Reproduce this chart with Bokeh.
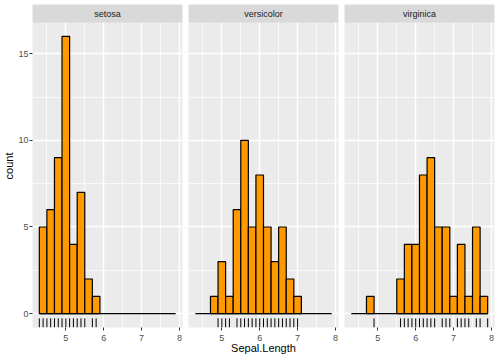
import numpy as np
from bokeh.plotting import figure
from bokeh.layouts import row
from bokeh.models import FixedTicker, Range1d
from bokeh.embed import file_html
from bokeh.resources import INLINE
from bokeh.core.properties import value

# ---- data ----
species = ["setosa", "versicolor", "virginica"]
bin_edges = [4.3, 4.5, 4.7, 4.9, 5.1, 5.3, 5.5, 5.7, 5.9, 6.1, 6.3, 6.5,
             6.7, 6.9, 7.1, 7.3, 7.5, 7.7, 7.9]
setosa_counts = [5, 6, 9, 16, 4, 7, 2, 1, 0, 0, 0, 0, 0, 0, 0, 0, 0, 0]
versicolor_counts = [0, 0, 1, 3, 1, 6, 10, 5, 8, 5, 3, 5, 2, 1, 0, 0, 0, 0]
virginica_counts = [0, 0, 1, 0, 0, 0, 2, 4, 4, 8, 9, 5, 5, 1, 4, 1, 5, 1]
setosa_rug = [4.3, 4.4, 4.5, 4.6, 4.7, 4.8, 4.9, 5.0, 5.1, 5.2, 5.3, 5.4, 5.5, 5.7, 5.8]
versicolor_rug = [4.9, 5.0, 5.1, 5.2, 5.4, 5.5, 5.6, 5.7, 5.8, 5.9, 6.0, 6.1, 6.2,
                  6.3, 6.4, 6.5, 6.6, 6.7, 6.8, 6.9, 7.0]
virginica_rug = [4.9, 5.6, 5.7, 5.8, 5.9, 6.0, 6.1, 6.2, 6.3, 6.4, 6.5, 6.7, 6.8,
                 6.9, 7.1, 7.2, 7.3, 7.4, 7.6, 7.7, 7.9]
x_ticks = [5, 6, 7, 8]
x_minor = [4.5, 5.5, 6.5, 7.5]
y_ticks = [0, 5, 10, 15]
y_minor = [2.5, 7.5, 12.5]

counts = {"setosa": setosa_counts, "versicolor": versicolor_counts, "virginica": virginica_counts}
rugs = {"setosa": setosa_rug, "versicolor": versicolor_rug, "virginica": virginica_rug}

FONT = "Liberation Sans"
PANEL_H = 305
STRIP_H = 18
FRAME_W = 150

edges = np.array(bin_edges)
xspan = edges[-1] - edges[0]
x_lo, x_hi = edges[0] - 0.05 * xspan, edges[-1] + 0.05 * xspan
ymax = max(max(c) for c in counts.values())
y_lo, y_hi = -0.05 * ymax, 1.05 * ymax
y_top = y_hi + (y_hi - y_lo) * STRIP_H / PANEL_H

figs = []
for i, sp in enumerate(species):
    p = figure(frame_width=FRAME_W, frame_height=PANEL_H + STRIP_H,
               x_range=Range1d(x_lo, x_hi), y_range=Range1d(y_lo, y_top),
               output_backend="svg", toolbar_location=None, tools="",
               min_border_top=4, min_border_bottom=32,
               min_border_left=27 if i == 0 else 3, min_border_right=3,
               y_axis_location="left" if i == 0 else None)
    p.background_fill_color = "#EBEBEB"
    p.border_fill_color = "white"
    p.outline_line_color = None

    # grids
    p.xgrid.ticker = FixedTicker(ticks=x_ticks, minor_ticks=x_minor)
    p.ygrid.ticker = FixedTicker(ticks=y_ticks, minor_ticks=y_minor)
    for g in (p.xgrid, p.ygrid):
        g.grid_line_color = "white"
        g.grid_line_width = 1.4
        g.minor_grid_line_color = "white"
        g.minor_grid_line_width = 0.7

    # x axis
    ax = p.xaxis[0]
    ax.ticker = FixedTicker(ticks=x_ticks)
    ax.axis_line_color = None
    ax.major_tick_out = 3
    ax.major_tick_in = 0
    ax.minor_tick_out = 0
    ax.minor_tick_in = 0
    ax.major_tick_line_color = "#333333"
    ax.major_label_text_font = FONT
    ax.major_label_text_font_size = "9px"
    ax.major_label_text_color = "#4D4D4D"
    ax.major_label_standoff = 4
    ax.axis_label = "Sepal.Length"
    ax.axis_label_text_font = FONT
    ax.axis_label_text_font_size = "11px"
    ax.axis_label_text_font_style = "normal"
    ax.axis_label_text_color = "black"
    ax.axis_label_standoff = -2
    if i != 1:
        ax.axis_label_text_alpha = 0

    if i == 0:
        ay = p.yaxis[0]
        ay.ticker = FixedTicker(ticks=y_ticks)
        ay.axis_line_color = None
        ay.major_tick_out = 3
        ay.major_tick_in = 0
        ay.minor_tick_out = 0
        ay.minor_tick_in = 0
        ay.major_tick_line_color = "#333333"
        ay.major_label_text_font = FONT
        ay.major_label_text_font_size = "9px"
        ay.major_label_text_color = "#4D4D4D"
        ay.major_label_standoff = 1
        ay.axis_label = "count"
        ay.axis_label_text_font = FONT
        ay.axis_label_text_font_size = "11px"
        ay.axis_label_text_font_style = "normal"
        ay.axis_label_text_color = "black"
        ay.axis_label_standoff = 0

    # strip
    p.quad(left=[x_lo], right=[x_hi], bottom=[y_hi], top=[y_top],
           fill_color="#D9D9D9", line_color=None)
    p.text(x=[(x_lo + x_hi) / 2], y=[(y_hi + y_top) / 2], text=[sp],
           text_align="center", text_baseline="middle",
           text_font=value(FONT), text_font_size="9px", text_color="#1A1A1A")

    # zero baseline and bars
    p.segment(x0=[edges[0]], x1=[edges[-1]], y0=[0], y1=[0],
              line_color="black", line_width=1.2)
    c = np.array(counts[sp])
    m = c > 0
    p.quad(left=edges[:-1][m], right=edges[1:][m], bottom=0, top=c[m],
           fill_color="#FF9900", line_color="black", line_width=1.2)

    # rug
    rv = np.array(rugs[sp])
    p.segment(x0=rv, x1=rv, y0=y_lo, y1=y_lo + 0.03 * (y_hi - y_lo),
              line_color="black", line_width=1)
    figs.append(p)

layout = row(*figs)
open("out.html", "w").write(file_html(layout, INLINE))
